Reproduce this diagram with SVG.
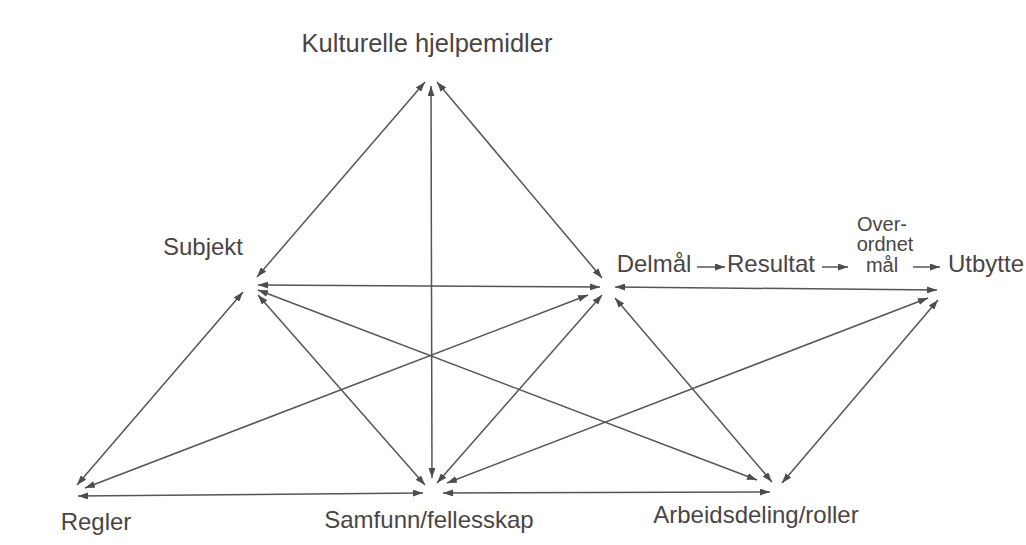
<svg xmlns="http://www.w3.org/2000/svg" width="1026" height="545" viewBox="0 0 1026 545">
  <defs>
    <marker id="head" viewBox="0 0 10 7" refX="10" refY="3.5" markerWidth="10" markerHeight="7" markerUnits="userSpaceOnUse" orient="auto-start-reverse">
      <path d="M0,0 L10,3.5 L0,7 Z" fill="#514c4c"/>
    </marker>
    <style>
      .lbl { font-family: "Liberation Sans", Arial, sans-serif; font-size: 24px; fill: #4a4545; text-anchor: middle; }
      .stack { font-size: 20px; }
      .edge { stroke: #595454; stroke-width: 1.5; fill: none; marker-start: url(#head); marker-end: url(#head); }
      .flow { stroke: #595454; stroke-width: 1.5; fill: none; marker-end: url(#head); }
    </style>
  </defs>
  <rect width="1026" height="545" fill="#ffffff"/>

  <!-- two-way relations between the nodes -->
  <g id="connectors">
    <line class="edge" x1="425" y1="82" x2="257" y2="277"/>
    <line class="edge" x1="431" y1="86" x2="432" y2="478"/>
    <line class="edge" x1="437" y1="82" x2="602" y2="278"/>
    <line class="edge" x1="258" y1="285" x2="600" y2="287"/>
    <line class="edge" x1="243" y1="292" x2="77" y2="485"/>
    <line class="edge" x1="258" y1="295" x2="425" y2="485"/>
    <line class="edge" x1="258" y1="290" x2="757" y2="480"/>
    <line class="edge" x1="588" y1="295" x2="85" y2="488"/>
    <line class="edge" x1="602" y1="295" x2="437" y2="483"/>
    <line class="edge" x1="615" y1="298" x2="772" y2="482"/>
    <line class="edge" x1="615" y1="287" x2="937" y2="290"/>
    <line class="edge" x1="928" y1="298" x2="447" y2="483"/>
    <line class="edge" x1="938" y1="300" x2="782" y2="483"/>
    <line class="edge" x1="78" y1="496" x2="423" y2="493"/>
    <line class="edge" x1="443" y1="493" x2="770" y2="492"/>
    <!-- outcome chain -->
    <line class="flow" x1="697" y1="267" x2="725" y2="267"/>
    <line class="flow" x1="822" y1="267" x2="848" y2="267"/>
    <line class="flow" x1="913" y1="267" x2="940" y2="267"/>
  </g>

  <g id="kulturelle-hjelpemidler">
    <text class="lbl" x="427" y="52" style="font-size:25.5px">Kulturelle hjelpemidler</text>
  </g>
  <g id="subjekt">
    <text class="lbl" x="203" y="255">Subjekt</text>
  </g>
  <g id="delmal">
    <text class="lbl" x="654" y="272">Delmål</text>
  </g>
  <g id="resultat">
    <text class="lbl" x="771" y="272">Resultat</text>
  </g>
  <g id="overordnet-mal">
    <text class="lbl stack" x="882" y="231">Over-</text>
    <text class="lbl stack" x="885" y="251">ordnet</text>
    <text class="lbl stack" x="882" y="272">mål</text>
  </g>
  <g id="utbytte">
    <text class="lbl" x="986" y="272">Utbytte</text>
  </g>
  <g id="regler">
    <text class="lbl" x="96" y="530">Regler</text>
  </g>
  <g id="samfunn-fellesskap">
    <text class="lbl" x="429" y="528">Samfunn/fellesskap</text>
  </g>
  <g id="arbeidsdeling-roller">
    <text class="lbl" x="756" y="523">Arbeidsdeling/roller</text>
  </g>
</svg>
